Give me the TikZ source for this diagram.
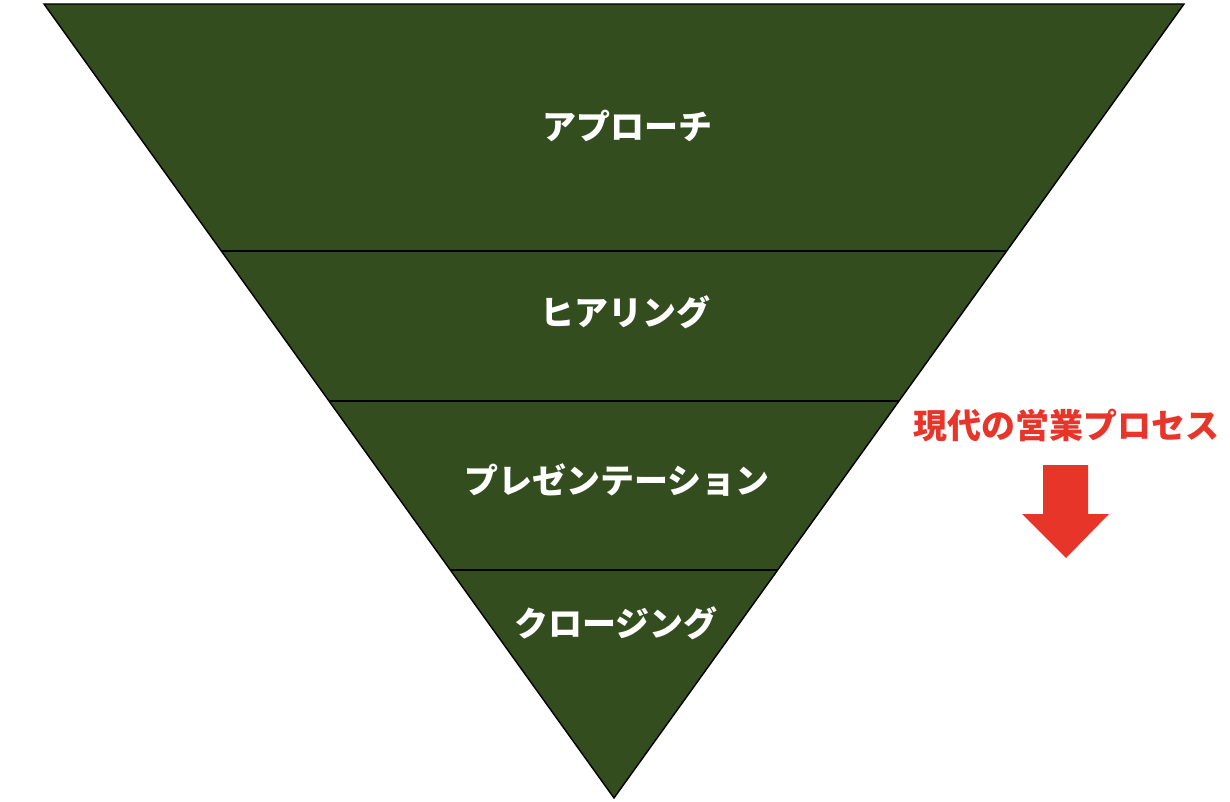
\documentclass[tikz,border=0pt]{standalone}
\usepackage{fontspec}
\newfontfamily\cjk{Noto Sans CJK JP}
\definecolor{funnel}{HTML}{334D1F}
\definecolor{accent}{HTML}{E8352A}
\begin{document}
\begin{tikzpicture}[x=1pt,y=-1pt,
  stage/.style={text=white,font=\cjk\bfseries\fontsize{34}{40}\selectfont,inner sep=0pt},
  divider/.style={draw=black,line width=1.2pt},
  caption/.style={text=accent,font=\cjk\bfseries\fontsize{34}{40}\selectfont,inner sep=0pt}]
\useasboundingbox (0,0) rectangle (1230,802);
\coordinate (tl) at (44,4);
\coordinate (tr) at (1184,4);
\coordinate (bt) at (614,798);
\fill[funnel,draw=black,line width=1.4pt,line join=miter] (tl) -- (tr) -- (bt) -- cycle;
\coordinate (l1) at (222,251); \coordinate (r1) at (1006,251);
\coordinate (l2) at (329,401); \coordinate (r2) at (899,401);
\coordinate (l3) at (451,570); \coordinate (r3) at (778,570);
\draw[divider] (l1) -- (r1);
\draw[divider] (l2) -- (r2);
\draw[divider] (l3) -- (r3);
\node[stage] (s1) at (627,126) {アプローチ};
\node[stage] (s2) at (625,312) {ヒアリング};
\node[stage] (s3) at (617,480) {プレゼンテーション};
\node[stage] (s4) at (616,623) {クロージング};
\node[caption] (cap) at (1066,426) {現代の営業プロセス};
\fill[accent] (1043,465) -- (1088,465) -- (1088,514) -- (1109,514) -- (1066,558) -- (1022,514) -- (1043,514) -- cycle;
\end{tikzpicture}
\end{document}
